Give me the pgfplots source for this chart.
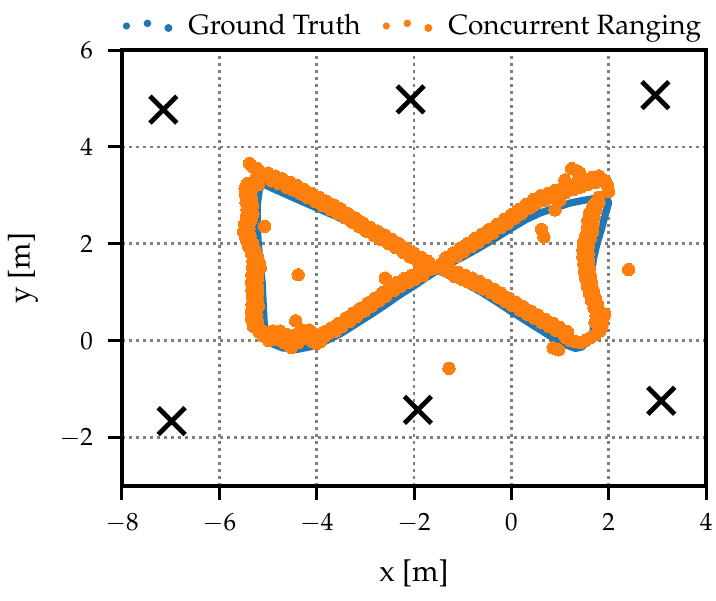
\documentclass[border=0pt]{standalone}
\usepackage[T1]{fontenc}
\usepackage{mathpazo}
\usepackage{pgfplots}
\pgfplotsset{compat=1.18}
\definecolor{tabblue}{HTML}{1F77B4}
\definecolor{taborange}{HTML}{FF7F0E}
\definecolor{gridgray}{HTML}{808080}
\begin{document}
\begin{tikzpicture}
\useasboundingbox (-61pt,-57pt) rectangle (297pt,243pt);
\begin{axis}[
  at={(0pt,0pt)}, anchor=south west,
  scale only axis, width=292pt, height=218pt,
  xmin=-8, xmax=4, ymin=-3, ymax=6,
  xtick={-8,-6,...,4}, ytick={-2,0,...,6},
  tick pos=left, tick align=outside,
  major tick length=7pt,
  every tick/.style={black, line width=1.5pt},
  axis line style={line width=1.6pt},
  grid=major,
  major grid style={gridgray, line width=1.3pt, dash pattern=on 1.3pt off 2.2pt},
  tick label style={font=\fontsize{12.5}{14}\selectfont},
  xticklabel style={yshift=-3pt},
  yticklabel style={xshift=-4pt},
  label style={font=\fontsize{15}{17}\selectfont},
  xlabel={x [m]}, ylabel={y [m]},
  xlabel style={at={(axis description cs:0.5,-0.1995)}, anchor=center},
  ylabel style={at={(axis description cs:-0.1695,0.5)}, anchor=center},
  legend style={at={(axis description cs:0.5,1)}, anchor=south, yshift=2pt,
    draw=none, fill=none, font=\fontsize{14}{16}\selectfont,
    /tikz/every odd column/.append style={column sep=6pt},
    /tikz/every even column/.append style={column sep=9pt}},
  legend columns=2,
]
% ground truth
\addplot[tabblue, line width=3.6pt, line join=round,
  legend image code/.code={
    \fill[tabblue, draw=none] (0pt,0pt) circle (1.8pt);
    \fill[tabblue, draw=none] (10.5pt,1.3pt) circle (1.9pt);
    \fill[tabblue, draw=none] (21pt,-1pt) circle (2.0pt);}]
coordinates {
(-1.52,1.45) (-1.2,1.62) (-0.9,1.78) (-0.6,1.95) (-0.3,2.13) (0,2.32) (0.3,2.50)
(0.6,2.64) (0.9,2.74) (1.2,2.84) (1.5,2.90) (1.75,2.94) (1.95,2.94)
(2.0,2.85) (1.93,2.6) (1.85,2.3) (1.76,2.0) (1.69,1.7) (1.65,1.4) (1.65,1.1)
(1.67,0.8) (1.70,0.5) (1.68,0.2) (1.58,0.0) (1.45,-0.13) (1.32,-0.16)
(1.1,-0.08) (0.85,0.06) (0.6,0.22) (0.3,0.41) (0,0.60) (-0.3,0.80) (-0.6,0.99)
(-0.9,1.16) (-1.2,1.31) (-1.52,1.45)
(-2.0,1.72) (-2.5,2.0) (-3.0,2.28) (-3.5,2.52) (-4.0,2.74) (-4.5,2.96) (-4.9,3.14) (-5.12,3.25)
(-5.18,3.1) (-5.22,2.8) (-5.22,2.4) (-5.20,2.0) (-5.16,1.6) (-5.12,1.2) (-5.10,0.8)
(-5.08,0.4) (-5.04,0.12) (-4.95,-0.05) (-4.7,-0.15) (-4.4,-0.18)
(-4.1,-0.12) (-3.8,0.0) (-3.5,0.15) (-3.2,0.34) (-2.9,0.53) (-2.6,0.73) (-2.3,0.94)
(-2.0,1.13) (-1.75,1.3) (-1.52,1.45)
};
\addlegendentry{Ground Truth}
% concurrent ranging
\addplot[only marks, mark=*, mark size=3.1pt, taborange,
  mark options={draw=taborange, fill=taborange, line width=0pt},
  legend image code/.code={
    \fill[taborange, draw=none] (0pt,0pt) circle (1.8pt);
    \fill[taborange, draw=none] (10.5pt,1.3pt) circle (1.9pt);
    \fill[taborange, draw=none] (21pt,-1pt) circle (2.0pt);}]
coordinates {
(-5.38,3.66) (-5.30,3.58) (-5.22,3.55) (-5.15,3.46) (-5.05,3.40) (-4.95,3.36)
(-4.85,3.30) (-4.75,3.28) (-4.66,3.24) (-4.58,3.25) (-4.50,3.18) (-4.40,3.12)
(-4.32,3.10) (-4.22,3.03) (-4.14,2.98) (-4.05,2.95) (-3.95,2.88) (-3.86,2.86)
(-3.76,2.80) (-3.66,2.78) (-3.58,2.70) (-3.48,2.64) (-3.40,2.58) (-3.30,2.52)
(-3.20,2.46) (-3.10,2.38) (-3.02,2.34) (-2.92,2.28) (-2.82,2.20) (-2.72,2.16)
(-2.62,2.10) (-2.52,2.06) (-2.42,2.00) (-2.32,1.94) (-2.22,1.86) (-2.12,1.82)
(-2.04,1.76) (-1.95,1.72) (-1.85,1.66) (-1.76,1.62) (-1.66,1.56) (-1.58,1.50)
(-5.25,3.35) (-5.20,3.22)
(-5.00,3.46) (-4.85,3.40) (-4.70,3.34) (-4.55,3.27) (-4.40,3.20) (-4.25,3.12)
(-4.10,3.04) (-3.95,2.96) (-3.80,2.88) (-3.65,2.80) (-3.50,2.72) (-3.35,2.62)
(-3.20,2.53) (-3.05,2.43) (-2.90,2.34) (-2.75,2.26) (-2.60,2.18) (-2.45,2.09)
(-2.30,2.00) (-2.15,1.90) (-2.00,1.81) (-1.85,1.72) (-1.70,1.63)
(-4.92,3.30) (-4.78,3.24) (-4.62,3.17) (-4.48,3.11) (-4.32,3.03) (-4.18,2.95)
(-4.02,2.87) (-3.88,2.79) (-3.72,2.71) (-3.58,2.63) (-3.42,2.54) (-3.28,2.45)
(-3.12,2.35) (-2.98,2.26) (-2.82,2.17) (-2.68,2.09) (-2.52,2.00) (-2.38,1.92)
(-2.22,1.82) (-2.08,1.73) (-1.92,1.63) (-1.78,1.54)
(-5.42,3.25) (-5.44,3.05) (-5.42,2.92) (-5.36,2.80) (-5.35,2.68) (-5.33,2.56)
(-5.38,2.45) (-5.45,2.32) (-5.47,2.20) (-5.40,2.10) (-5.35,2.00) (-5.31,1.90)
(-5.26,1.80) (-5.22,1.72) (-5.18,1.62) (-5.16,1.50) (-5.25,1.40) (-5.29,1.28)
(-5.27,1.16) (-5.23,1.05) (-5.25,0.94) (-5.27,0.83) (-5.20,0.72) (-5.25,0.62)
(-5.29,0.50) (-5.25,0.38) (-5.20,0.28) (-5.18,0.18) (-5.10,0.10) (-5.02,0.08)
(-4.92,0.12) (-4.80,0.16) (-4.72,0.10) (-4.62,0.00) (-4.55,-0.12) (-4.45,0.02)
(-4.34,0.16) (-4.24,0.12) (-4.14,0.16) (-4.05,0.02) (-4.00,-0.06) (-3.92,0.02)
(-3.84,0.08)
(-5.47,3.15) (-5.46,3.00) (-5.45,2.85) (-5.43,2.70) (-5.44,2.55) (-5.48,2.40)
(-5.50,2.25) (-5.45,2.10) (-5.40,1.95) (-5.34,1.80) (-5.31,1.65) (-5.32,1.50)
(-5.33,1.35) (-5.34,1.20) (-5.33,1.05) (-5.32,0.90) (-5.33,0.75) (-5.34,0.60)
(-5.34,0.45) (-5.30,0.30)
(-5.35,3.08) (-5.34,2.93) (-5.32,2.78) (-5.31,2.62) (-5.35,2.48) (-5.39,2.32)
(-5.37,2.18) (-5.32,2.02) (-5.27,1.88) (-5.21,1.72) (-5.20,1.58) (-5.21,1.42)
(-5.22,1.28) (-5.22,1.12) (-5.21,0.98) (-5.21,0.82) (-5.22,0.68) (-5.23,0.52)
(-5.22,0.38) (-5.16,0.22)
(-5.05,0.18) (-4.90,0.20) (-4.75,0.20) (-4.60,0.12) (-4.45,0.12) (-4.30,0.22)
(-4.15,0.22) (-4.00,0.12) (-3.85,0.18)
(-4.98,0.00) (-4.82,0.02) (-4.68,-0.04) (-4.52,-0.14) (-4.38,-0.04) (-4.22,0.04)
(-4.08,-0.02) (-3.92,-0.02)
(-3.74,0.16) (-3.64,0.22) (-3.54,0.30) (-3.44,0.38) (-3.34,0.44) (-3.24,0.50)
(-3.14,0.56) (-3.04,0.64) (-2.94,0.70) (-2.84,0.80) (-2.74,0.88) (-2.64,0.94)
(-2.54,1.00) (-2.44,1.06) (-2.34,1.14) (-2.24,1.20) (-2.14,1.26) (-2.04,1.30)
(-1.94,1.36) (-1.84,1.40) (-1.74,1.44) (-1.64,1.48)
(-3.70,0.26) (-3.55,0.36) (-3.40,0.47) (-3.25,0.57) (-3.10,0.67) (-2.95,0.78)
(-2.80,0.88) (-2.65,0.99) (-2.50,1.10) (-2.35,1.20) (-2.20,1.28) (-2.05,1.35)
(-1.90,1.42) (-1.75,1.50)
(-3.62,0.19) (-3.48,0.29) (-3.32,0.40) (-3.18,0.50) (-3.02,0.61) (-2.88,0.71)
(-2.72,0.82) (-2.58,0.92) (-2.42,1.03) (-2.28,1.12) (-2.12,1.20) (-1.98,1.27)
(-1.82,1.34)
(-1.45,1.58) (-1.36,1.62) (-1.26,1.70) (-1.16,1.76) (-1.06,1.82) (-0.96,1.90)
(-0.86,1.96) (-0.76,2.02) (-0.66,2.10) (-0.56,2.14) (-0.46,2.22) (-0.36,2.28)
(-0.26,2.36) (-0.16,2.44) (-0.06,2.50) (0.04,2.56) (0.14,2.62) (0.24,2.70)
(0.34,2.76) (0.44,2.84) (0.54,2.90) (0.64,2.94) (0.74,2.96) (0.84,3.02)
(0.94,3.04) (1.04,3.08) (1.14,3.12) (1.24,3.14) (1.34,3.18) (1.44,3.22)
(1.54,3.28) (1.62,3.30) (1.70,3.34) (1.78,3.36) (1.86,3.34) (1.93,3.30)
(1.98,3.20) (2.00,3.08)
(-1.35,1.71) (-1.20,1.81) (-1.05,1.91) (-0.90,2.01) (-0.75,2.11) (-0.60,2.20)
(-0.45,2.30) (-0.30,2.40) (-0.15,2.50) (0.00,2.60) (0.15,2.71) (0.30,2.81)
(0.45,2.91) (0.60,2.99) (0.75,3.04) (0.90,3.10) (1.05,3.15) (1.20,3.21)
(1.35,3.27) (1.50,3.33) (1.65,3.37) (1.80,3.40)
(-1.28,1.64) (-1.12,1.74) (-0.98,1.84) (-0.82,1.94) (-0.68,2.03) (-0.52,2.13)
(-0.38,2.22) (-0.22,2.33) (-0.08,2.42) (0.08,2.53) (0.22,2.63) (0.38,2.74)
(0.52,2.84) (0.68,2.90) (0.82,2.95) (0.98,3.01) (1.12,3.06) (1.28,3.12)
(1.42,3.17) (1.58,3.23) (1.72,3.26)
(1.24,3.55) (1.36,3.50) (1.41,3.46) (1.10,3.32) (0.90,2.70) (1.00,2.90)
(1.80,2.96) (1.72,2.84) (1.66,2.72) (1.64,2.60) (1.62,2.48) (1.58,2.36)
(1.60,2.24) (1.55,2.12) (1.52,2.00) (1.50,1.88) (1.52,1.76) (1.56,1.64)
(1.54,1.52) (1.55,1.40) (1.58,1.28) (1.60,1.16) (1.62,1.04) (1.66,0.92)
(1.70,0.80) (1.72,0.68) (1.78,0.58) (1.92,0.55) (1.84,0.44) (1.80,0.32)
(1.82,0.20) (1.72,0.12) (1.62,0.06) (1.52,0.00) (1.42,-0.04) (1.32,-0.02)
(1.22,0.00) (1.12,0.06)
(1.80,2.85) (1.74,2.70) (1.70,2.55) (1.68,2.40) (1.67,2.25) (1.62,2.10)
(1.58,1.95) (1.58,1.80) (1.59,1.65) (1.60,1.50) (1.62,1.35) (1.65,1.20)
(1.68,1.05) (1.72,0.90) (1.77,0.75) (1.82,0.60) (1.88,0.45) (1.86,0.30)
(1.68,2.78) (1.60,2.62) (1.57,2.48) (1.56,2.32) (1.53,2.18) (1.48,2.02)
(1.47,1.88) (1.47,1.72) (1.49,1.58) (1.50,1.42) (1.53,1.28) (1.56,1.12)
(1.60,0.98) (1.65,0.82) (1.70,0.68) (1.74,0.52) (1.72,0.38)
(1.02,0.20) (0.92,0.26) (0.82,0.32) (0.72,0.38) (0.62,0.44) (0.52,0.48)
(0.42,0.54) (0.32,0.60) (0.22,0.66) (0.12,0.72) (0.02,0.78) (-0.08,0.84)
(-0.18,0.90) (-0.28,0.96) (-0.38,1.02) (-0.48,1.08) (-0.58,1.12) (-0.68,1.18)
(-0.78,1.22) (-0.88,1.26) (-0.98,1.30) (-1.08,1.34) (-1.18,1.38) (-1.28,1.42)
(-1.38,1.46)
(1.15,0.19) (1.00,0.27) (0.85,0.36) (0.70,0.44) (0.55,0.53) (0.40,0.61)
(0.25,0.70) (0.10,0.79) (-0.05,0.88) (-0.20,0.97) (-0.35,1.06) (-0.50,1.14)
(-0.65,1.22) (-0.80,1.29) (-0.95,1.35) (-1.10,1.41) (-1.25,1.47)
(1.08,0.12) (0.92,0.21) (0.78,0.29) (0.62,0.38) (0.48,0.46) (0.32,0.55)
(0.18,0.63) (0.02,0.72) (-0.12,0.81) (-0.28,0.90) (-0.42,0.99) (-0.58,1.07)
(-0.72,1.14) (-0.88,1.21) (-1.02,1.27) (-1.18,1.33)
(-5.07,2.36) (-4.38,1.36) (-4.43,0.41) (-2.59,1.29) (0.62,2.30) (0.67,2.14)
(0.86,-0.15) (0.97,-0.19) (-1.28,-0.57) (2.41,1.47) (1.80,0.22)
};
\addlegendentry{Concurrent Ranging}
% anchors
\addplot[only marks, mark=x, mark size=9.5pt, black,
  mark options={line width=2.4pt}, forget plot]
coordinates {
(-7.15,4.77) (-2.07,4.98) (2.96,5.07)
(-6.98,-1.66) (-1.92,-1.43) (3.08,-1.24)
};
\end{axis}
\end{tikzpicture}
\end{document}
